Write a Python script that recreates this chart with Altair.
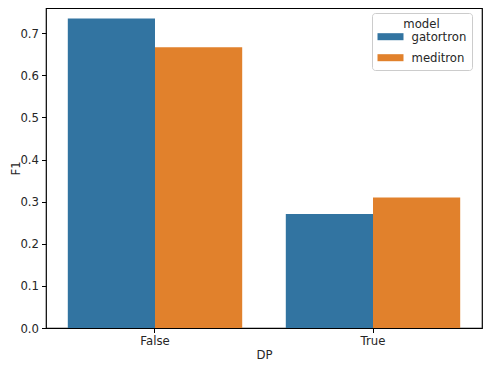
import altair as alt
import pandas as pd

dp = ["False", "False", "True", "True"]
model = ["gatortron", "meditron", "gatortron", "meditron"]
f1 = [0.735, 0.667, 0.271, 0.310]
y_ticks = [0.0, 0.1, 0.2, 0.3, 0.4, 0.5, 0.6, 0.7]

df = pd.DataFrame({"DP": dp, "model": model, "F1": f1})

FONT = "DejaVu Sans"
FS = 11.7
LEFT = 38

chart = alt.Chart(df).mark_bar().encode(
    x=alt.X("DP:N", title="DP",
            scale=alt.Scale(paddingInner=0.2, paddingOuter=0.1),
            axis=alt.Axis(labelAngle=0, titleY=21, titleBaseline="top",
                          titleFontWeight="normal")),
    xOffset=alt.XOffset("model:N", scale=alt.Scale(paddingInner=0, paddingOuter=0)),
    y=alt.Y("F1:Q", title="F1",
            scale=alt.Scale(domain=[0, 0.76], nice=False, zero=True),
            axis=alt.Axis(values=y_ticks, format=".1f", titleX=11 - LEFT,
                          titleBaseline="alphabetic", titleFontWeight="normal")),
    color=alt.Color("model:N", title="model",
                    scale=alt.Scale(domain=["gatortron", "meditron"],
                                    range=["#3274a1", "#e1812c"]),
                    legend=alt.Legend(orient="none", legendX=326, legendY=5,
                                      symbolType="M-1,-0.54H3V0.54H-1Z",
                                      symbolSize=169, symbolStrokeWidth=0,
                                      symbolOpacity=1,
                                      labelOffset=21, rowPadding=7,
                                      padding=5.5,
                                      titleAnchor="middle", titleAlign="center",
                                      titlePadding=0,
                                      fillColor="white", strokeColor="#cccccc",
                                      cornerRadius=3)),
).properties(
    width=436,
    height=320,
    autosize=alt.AutoSizeParams(type="none"),
    padding={"left": LEFT, "top": 0, "right": 2, "bottom": 34},
).configure_view(
    stroke="black", strokeWidth=1.2
).configure_axis(
    grid=False, domain=False,
    labelFont=FONT, titleFont=FONT, labelFontSize=FS, titleFontSize=FS,
    labelColor="#262626", titleColor="#262626",
    tickColor="black", tickSize=4.5, tickWidth=1, labelPadding=3,
).configure_legend(
    labelFont=FONT, titleFont=FONT, labelFontSize=FS, titleFontSize=FS,
    labelColor="#262626", titleColor="#262626", titleFontWeight="normal",
)

chart.save("out.html", embed_options={"renderer": "svg", "actions": False})
